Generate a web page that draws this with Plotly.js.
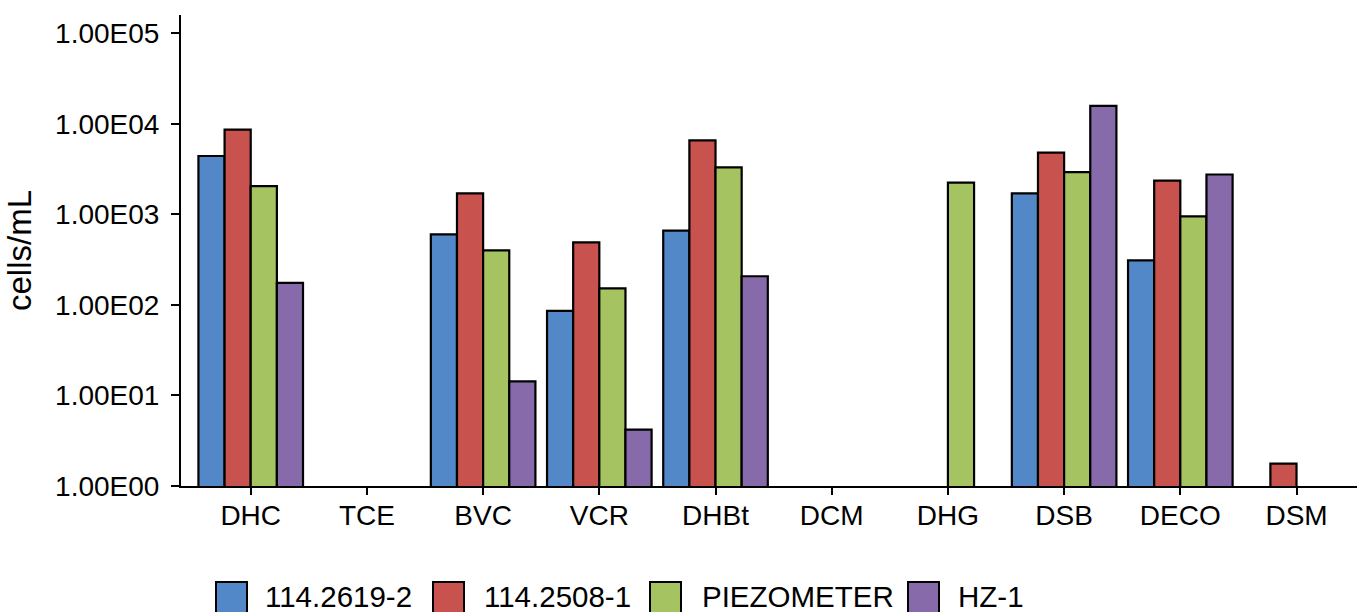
<!DOCTYPE html>
<html>
<head>
<meta charset="utf-8">
<script src="https://cdn.plot.ly/plotly-3.0.1.min.js"></script>
<style>
  html, body { margin: 0; padding: 0; background: #fff; }
  #chart { width: 1357px; height: 612px; }
</style>
</head>
<body>
<div id="chart"></div>
<script>
// Bacterial groups on the x axis
const categories = ["DHC", "TCE", "BVC", "VCR", "DHBt", "DCM", "DHG", "DSB", "DECO", "DSM"];

// Sampling points (one bar series each); null = not detected
const seriesNames = ["114.2619-2", "114.2508-1", "PIEZOMETER", "HZ-1"];
const well_114_2619_2 = [4400, null, 600, 86, 660, null, null, 1700, 310, null];
const well_114_2508_1 = [8600, null, 1700, 490, 6550, null, null, 4800, 2350, 1.77];
const piezometer      = [2050, null, 400, 152, 3300, null, 2230, 2920, 950, null];
const hz_1            = [175, null, 14.3, 4.2, 207, null, null, 15700, 2750, null];

// Y tick labels (log decades)
const tickValues = [1, 10, 100, 1000, 10000, 100000];
const tickLabels = ["1.00E00", "1.00E01", "1.00E02", "1.00E03", "1.00E04", "1.00E05"];

const seriesValues = [well_114_2619_2, well_114_2508_1, piezometer, hz_1];
const seriesColors = ["#5288C7", "#C8524E", "#A5C461", "#876AAA"];

const FONT = "Liberation Sans, Arial, Helvetica, sans-serif";

const traces = seriesNames.map((name, i) => ({
  type: "bar",
  name: name,
  x: categories,
  y: seriesValues[i],
  marker: { color: seriesColors[i], line: { color: "#000", width: 2.2 } },
  showlegend: false,
  hoverinfo: "x+y+name"
}));

// Geometry of the plotting area in pixels
const W = 1357, H = 612;
const M = { l: 181, r: 0, t: 15, b: 126 };
const plotW = W - M.l - M.r, plotH = H - M.t - M.b;
const px2paperX = px => (px - M.l) / plotW;
const px2paperY = py => (H - M.b - py) / plotH;

// Legend along the bottom: swatch left edge and label start per entry
const legendSwatchX = [216, 433, 650, 908];
const legendTextX = [263, 482, 700, 956];
const swatchSize = 31, swatchTop = 582, legendTextMid = 596;

const shapes = [], annotations = [];
seriesNames.forEach((name, i) => {
  shapes.push({
    type: "rect", xref: "paper", yref: "paper",
    x0: px2paperX(legendSwatchX[i]), x1: px2paperX(legendSwatchX[i] + swatchSize),
    y0: px2paperY(swatchTop), y1: px2paperY(swatchTop + swatchSize),
    fillcolor: seriesColors[i], line: { color: "#000", width: 2 }
  });
  annotations.push({
    xref: "paper", yref: "paper",
    x: px2paperX(legendTextX[i]), y: px2paperY(legendTextMid),
    xanchor: "left", yanchor: "middle", showarrow: false,
    text: name, font: { family: FONT, size: 29.5, color: "#000" }
  });
});

const layout = {
  width: W, height: H,
  margin: M,
  paper_bgcolor: "#fff", plot_bgcolor: "#fff",
  barmode: "group", bargap: 0.1, bargroupgap: 0,
  showlegend: false,
  font: { family: FONT, color: "#000" },
  xaxis: {
    type: "category",
    range: [-0.6, -0.6 + plotW / 116.2],
    showline: true, linecolor: "#000", linewidth: 2,
    ticks: "outside", ticklen: 7, tickwidth: 2, tickcolor: "#000",
    showgrid: false, zeroline: false,
    tickfont: { family: FONT, size: 28, color: "#000" },
    ticklabelstandoff: -4
  },
  yaxis: {
    type: "log",
    range: [0, 5.2],
    tickvals: tickValues, ticktext: tickLabels,
    showline: true, linecolor: "#000", linewidth: 2,
    ticks: "outside", ticklen: 8, tickwidth: 2, tickcolor: "#000",
    showgrid: false, zeroline: false,
    tickfont: { family: FONT, size: 28, color: "#000" },
    ticklabelstandoff: 6,
    title: { text: "cells/mL", font: { family: FONT, size: 33, color: "#000" }, standoff: 14 }
  },
  shapes: shapes,
  annotations: annotations
};

Plotly.newPlot("chart", traces, layout, { displayModeBar: false, staticPlot: true });
</script>
</body>
</html>
